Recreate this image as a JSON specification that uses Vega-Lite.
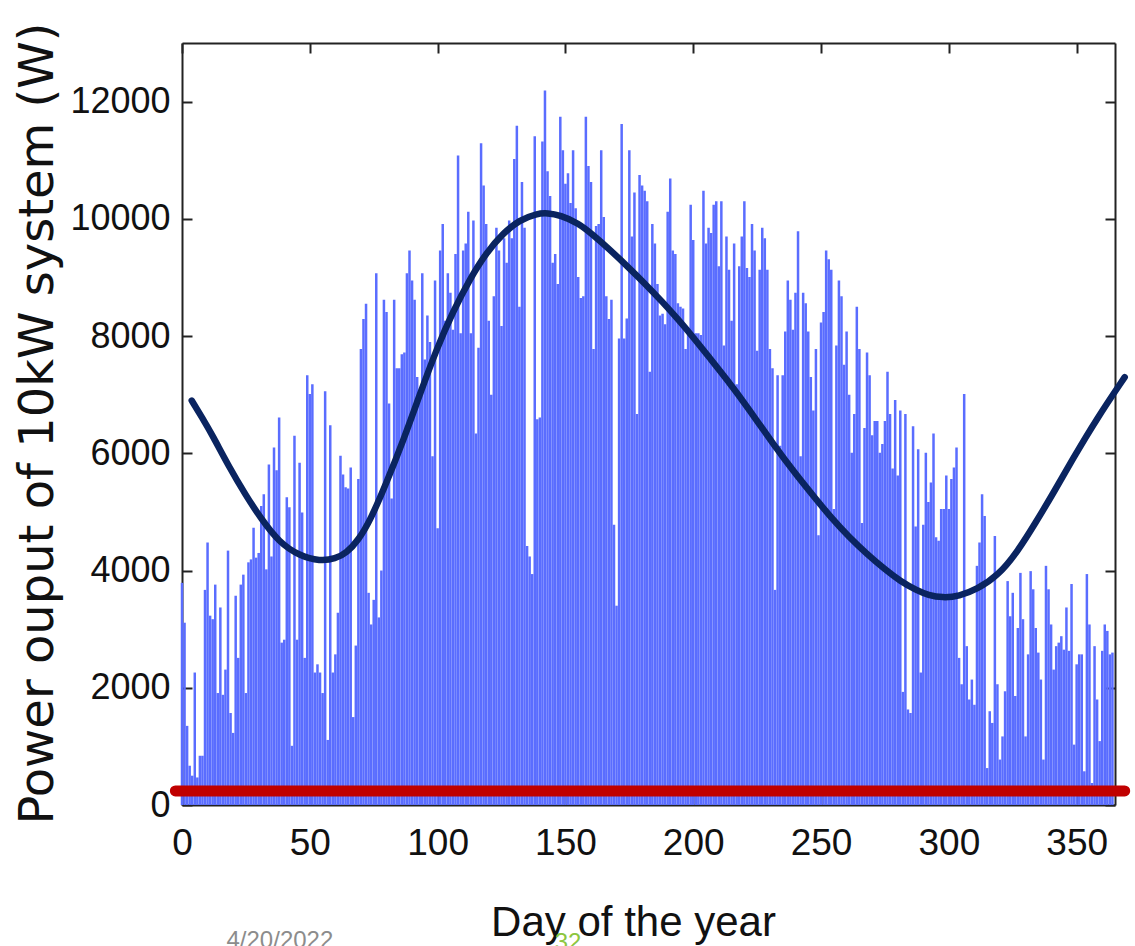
{
  "$schema": "https://vega.github.io/schema/vega-lite/v6.json",
  "width": 933,
  "height": 762,
  "autosize": "none",
  "padding": {"left": 182, "top": 43, "right": 20, "bottom": 141},
  "background": "white",
  "config": {"view": {"stroke": null}},
  "datasets": {
    "daily": [
      {"d":0,"p":3790},{"d":1,"p":3110},{"d":2,"p":1350},{"d":3,"p":670},{"d":4,"p":500},{"d":5,"p":2260},{"d":6,"p":470},{"d":7,"p":840},{"d":8,"p":840},{"d":9,"p":3670},
      {"d":10,"p":4480},{"d":11,"p":3230},{"d":12,"p":3170},{"d":13,"p":3760},{"d":14,"p":1910},{"d":15,"p":3370},{"d":16,"p":1880},{"d":17,"p":2310},{"d":18,"p":4340},{"d":19,"p":1570},
      {"d":20,"p":1230},{"d":21,"p":3570},{"d":22,"p":2510},{"d":23,"p":3760},{"d":24,"p":3930},{"d":25,"p":1910},{"d":26,"p":4140},{"d":27,"p":4190},{"d":28,"p":4730},{"d":29,"p":4220},
      {"d":30,"p":4300},{"d":31,"p":5100},{"d":32,"p":5300},{"d":33,"p":4020},{"d":34,"p":5810},{"d":35,"p":4240},{"d":36,"p":6100},{"d":37,"p":5710},{"d":38,"p":6610},{"d":39,"p":2770},
      {"d":40,"p":2820},{"d":41,"p":5250},{"d":42,"p":5080},{"d":43,"p":1010},{"d":44,"p":6300},{"d":45,"p":2820},{"d":46,"p":5840},{"d":47,"p":4990},{"d":48,"p":2510},{"d":49,"p":7330},
      {"d":50,"p":7010},{"d":51,"p":7180},{"d":52,"p":2260},{"d":53,"p":2400},{"d":54,"p":2260},{"d":55,"p":1910},{"d":56,"p":7060},{"d":57,"p":1110},{"d":58,"p":6480},{"d":59,"p":2260},
      {"d":60,"p":2570},{"d":61,"p":3280},{"d":62,"p":5960},{"d":63,"p":5640},{"d":64,"p":5420},{"d":65,"p":5400},{"d":66,"p":5760},{"d":67,"p":1500},{"d":68,"p":2720},{"d":69,"p":5560},
      {"d":70,"p":7780},{"d":71,"p":8290},{"d":72,"p":8550},{"d":73,"p":3620},{"d":74,"p":3080},{"d":75,"p":3500},{"d":76,"p":9070},{"d":77,"p":3200},{"d":78,"p":4000},{"d":79,"p":8620},
      {"d":80,"p":8410},{"d":81,"p":6850},{"d":82,"p":5230},{"d":83,"p":8620},{"d":84,"p":7450},{"d":85,"p":7450},{"d":86,"p":7690},{"d":87,"p":7720},{"d":88,"p":9070},{"d":89,"p":9460},
      {"d":90,"p":8950},{"d":91,"p":8620},{"d":92,"p":7300},{"d":93,"p":6940},{"d":94,"p":9070},{"d":95,"p":7600},{"d":96,"p":8350},{"d":97,"p":7900},{"d":98,"p":5950},{"d":99,"p":8950},
      {"d":100,"p":4720},{"d":101,"p":9460},{"d":102,"p":9910},{"d":103,"p":8260},{"d":104,"p":9070},{"d":105,"p":8740},{"d":106,"p":8110},{"d":107,"p":9400},{"d":108,"p":11080},{"d":109,"p":8050},
      {"d":110,"p":9460},{"d":111,"p":9580},{"d":112,"p":10120},{"d":113,"p":8050},{"d":114,"p":9970},{"d":115,"p":6340},{"d":116,"p":7800},{"d":117,"p":11290},{"d":118,"p":10570},{"d":119,"p":9910},
      {"d":120,"p":8260},{"d":121,"p":7000},{"d":122,"p":8680},{"d":123,"p":9850},{"d":124,"p":9460},{"d":125,"p":8170},{"d":126,"p":9670},{"d":127,"p":9250},{"d":128,"p":9970},{"d":129,"p":9670},
      {"d":130,"p":11020},{"d":131,"p":11590},{"d":132,"p":8500},{"d":133,"p":10630},{"d":134,"p":9850},{"d":135,"p":4420},{"d":136,"p":4240},{"d":137,"p":3940},{"d":138,"p":11410},{"d":139,"p":6580},
      {"d":140,"p":6610},{"d":141,"p":11320},{"d":142,"p":12190},{"d":143,"p":10810},{"d":144,"p":10390},{"d":145,"p":9250},{"d":146,"p":9400},{"d":147,"p":8890},{"d":148,"p":11740},{"d":149,"p":11170},
      {"d":150,"p":10600},{"d":151,"p":10780},{"d":152,"p":10270},{"d":153,"p":11170},{"d":154,"p":10180},{"d":155,"p":9010},{"d":156,"p":8650},{"d":157,"p":8680},{"d":158,"p":11740},{"d":159,"p":10900},
      {"d":160,"p":10630},{"d":161,"p":7780},{"d":162,"p":9880},{"d":163,"p":9910},{"d":164,"p":11170},{"d":165,"p":10030},{"d":166,"p":8680},{"d":167,"p":8290},{"d":168,"p":8620},{"d":169,"p":4780},
      {"d":170,"p":3400},{"d":171,"p":7960},{"d":172,"p":11620},{"d":173,"p":7960},{"d":174,"p":8300},{"d":175,"p":11170},{"d":176,"p":9700},{"d":177,"p":10450},{"d":178,"p":6670},{"d":179,"p":10750},
      {"d":180,"p":10570},{"d":181,"p":10480},{"d":182,"p":10300},{"d":183,"p":7390},{"d":184,"p":9910},{"d":185,"p":9580},{"d":186,"p":8890},{"d":187,"p":8350},{"d":188,"p":8380},{"d":189,"p":8200},
      {"d":190,"p":10120},{"d":191,"p":10690},{"d":192,"p":9460},{"d":193,"p":9400},{"d":194,"p":8560},{"d":195,"p":8500},{"d":196,"p":8470},{"d":197,"p":7780},{"d":198,"p":8140},{"d":199,"p":10240},
      {"d":200,"p":9640},{"d":201,"p":8050},{"d":202,"p":8050},{"d":203,"p":8020},{"d":204,"p":10480},{"d":205,"p":9580},{"d":206,"p":9850},{"d":207,"p":9760},{"d":208,"p":10240},{"d":209,"p":10300},
      {"d":210,"p":9190},{"d":211,"p":10300},{"d":212,"p":7840},{"d":213,"p":9700},{"d":214,"p":9130},{"d":215,"p":8260},{"d":216,"p":9580},{"d":217,"p":7180},{"d":218,"p":9190},{"d":219,"p":9700},
      {"d":220,"p":10300},{"d":221,"p":9160},{"d":222,"p":9010},{"d":223,"p":9910},{"d":224,"p":9460},{"d":225,"p":7750},{"d":226,"p":9130},{"d":227,"p":9850},{"d":228,"p":9670},{"d":229,"p":9130},
      {"d":230,"p":7780},{"d":231,"p":7450},{"d":232,"p":3670},{"d":233,"p":7330},{"d":234,"p":6130},{"d":235,"p":7330},{"d":236,"p":8080},{"d":237,"p":8950},{"d":238,"p":8620},{"d":239,"p":8110},
      {"d":240,"p":8740},{"d":241,"p":9790},{"d":242,"p":5950},{"d":243,"p":8740},{"d":244,"p":8560},{"d":245,"p":8080},{"d":246,"p":7300},{"d":247,"p":6730},{"d":248,"p":7780},{"d":249,"p":4600},
      {"d":250,"p":8230},{"d":251,"p":8410},{"d":252,"p":9460},{"d":253,"p":9310},{"d":254,"p":9130},{"d":255,"p":5050},{"d":256,"p":7840},{"d":257,"p":8950},{"d":258,"p":8680},{"d":259,"p":7510},
      {"d":260,"p":8080},{"d":261,"p":7000},{"d":262,"p":6010},{"d":263,"p":6670},{"d":264,"p":8500},{"d":265,"p":7780},{"d":266,"p":4810},{"d":267,"p":6430},{"d":268,"p":7720},{"d":269,"p":7330},
      {"d":270,"p":6310},{"d":271,"p":6550},{"d":272,"p":6550},{"d":273,"p":6010},{"d":274,"p":6160},{"d":275,"p":6550},{"d":276,"p":7390},{"d":277,"p":6670},{"d":278,"p":5740},{"d":279,"p":6910},
      {"d":280,"p":5620},{"d":281,"p":6730},{"d":282,"p":1930},{"d":283,"p":6670},{"d":284,"p":1630},{"d":285,"p":1570},{"d":286,"p":6460},{"d":287,"p":4750},{"d":288,"p":6070},{"d":289,"p":2260},
      {"d":290,"p":4780},{"d":291,"p":6010},{"d":292,"p":5170},{"d":293,"p":5500},{"d":294,"p":6340},{"d":295,"p":4570},{"d":296,"p":4510},{"d":297,"p":5050},{"d":298,"p":5050},{"d":299,"p":5620},
      {"d":300,"p":5050},{"d":301,"p":5560},{"d":302,"p":5760},{"d":303,"p":6100},{"d":304,"p":2510},{"d":305,"p":2060},{"d":306,"p":7010},{"d":307,"p":2710},{"d":308,"p":1800},{"d":309,"p":2140},
      {"d":310,"p":1710},{"d":311,"p":4080},{"d":312,"p":4480},{"d":313,"p":5300},{"d":314,"p":4930},{"d":315,"p":630},{"d":316,"p":1600},{"d":317,"p":1400},{"d":318,"p":4590},{"d":319,"p":2060},
      {"d":320,"p":775},{"d":321,"p":1170},{"d":322,"p":1940},{"d":323,"p":3820},{"d":324,"p":3220},{"d":325,"p":3620},{"d":326,"p":1860},{"d":327,"p":3020},{"d":328,"p":3960},{"d":329,"p":3170},
      {"d":330,"p":1170},{"d":331,"p":2570},{"d":332,"p":3990},{"d":333,"p":3680},{"d":334,"p":3020},{"d":335,"p":2600},{"d":336,"p":2140},{"d":337,"p":775},{"d":338,"p":4080},{"d":339,"p":3680},
      {"d":340,"p":3080},{"d":341,"p":2310},{"d":342,"p":2710},{"d":343,"p":2770},{"d":344,"p":2880},{"d":345,"p":2650},{"d":346,"p":3370},{"d":347,"p":2630},{"d":348,"p":3770},{"d":349,"p":1030},
      {"d":350,"p":2400},{"d":351,"p":2570},{"d":352,"p":2570},{"d":353,"p":575},{"d":354,"p":3940},{"d":355,"p":3080},{"d":356,"p":375},{"d":357,"p":2710},{"d":358,"p":1800},{"d":359,"p":1090},
      {"d":360,"p":2630},{"d":361,"p":3080},{"d":362,"p":2970},{"d":363,"p":2570},{"d":364,"p":2600}
    ],
    "fit": [
      {"d":3.8,"p":6900},{"d":8,"p":6600},{"d":12,"p":6300},{"d":18,"p":5800},{"d":25,"p":5280},{"d":31,"p":4880},{"d":38,"p":4480},{"d":46,"p":4250},{"d":54,"p":4160},{"d":60,"p":4200},
      {"d":64.4,"p":4300},{"d":69,"p":4520},{"d":73.6,"p":4850},{"d":80,"p":5500},{"d":86.6,"p":6220},{"d":93,"p":7000},{"d":99.6,"p":7780},{"d":106,"p":8420},{"d":112.7,"p":8980},{"d":119,"p":9420},
      {"d":125.7,"p":9760},{"d":132,"p":9980},{"d":138.8,"p":10090},{"d":143,"p":10100},{"d":148,"p":10060},{"d":155,"p":9930},{"d":161,"p":9720},{"d":167,"p":9490},{"d":174,"p":9200},{"d":181,"p":8900},
      {"d":187.8,"p":8590},{"d":194,"p":8290},{"d":200,"p":7980},{"d":206,"p":7650},{"d":213,"p":7270},{"d":222,"p":6740},{"d":231.6,"p":6140},{"d":240,"p":5650},{"d":248,"p":5220},{"d":254,"p":4900},
      {"d":261,"p":4570},{"d":268,"p":4280},{"d":275,"p":4020},{"d":281,"p":3820},{"d":287.4,"p":3660},{"d":292,"p":3580},{"d":297.5,"p":3535},{"d":304,"p":3560},{"d":311,"p":3680},{"d":319.2,"p":3910},
      {"d":327,"p":4330},{"d":334,"p":4820},{"d":341,"p":5330},{"d":348.4,"p":5900},{"d":358,"p":6600},{"d":368.8,"p":7300}
    ],
    "zero": [{"d":-2.6,"p":240},{"d":368.8,"p":240}],
    "dateText": [{"d":38.3,"p":-2120,"t":"4/20/2022"}],
    "pageText": [{"d":151,"p":-2150,"t":"32"}]
  },
  "resolve": {"axis": {"x": "independent", "y": "independent"}},
  "layer": [
    {
      "data": {"name": "daily"},
      "mark": {"type": "rule", "color": "#5a6dff", "strokeWidth": 2.5, "clip": false},
      "encoding": {
        "x": {"field": "d", "type": "quantitative",
          "scale": {"domain": [0, 365], "nice": false, "zero": false},
          "axis": {"orient": "bottom", "values": [0,50,100,150,200,250,300,350], "grid": false,
            "title": "Day of the year", "labelFont": "Liberation Sans", "labelFontSize": 37, "labelColor": "#111111",
            "labelPadding": 30, "labelFlush": false, "labelOverlap": false, "labelBaseline": "top",
            "tickSize": -10, "tickWidth": 2, "tickColor": "#222222", "domainColor": "#222222", "domainWidth": 2,
            "titleFont": "Liberation Sans", "titleFontSize": 42, "titleFontWeight": "normal", "titleColor": "#111111",
            "titleBaseline": "alphabetic", "titleAlign": "center", "titleX": 451, "titleY": 130}},
        "y": {"field": "p", "type": "quantitative",
          "scale": {"domain": [0, 13000], "nice": false, "zero": false},
          "axis": {"orient": "left", "values": [0,2000,4000,6000,8000,10000,12000], "format": "d", "grid": false,
            "title": "Power ouput of 10kW system (W)", "labelFont": "Liberation Sans", "labelFontSize": 36, "labelColor": "#111111",
            "labelPadding": 22, "labelOverlap": false, "labelFlush": false,
            "tickSize": -10, "tickWidth": 2, "tickColor": "#222222", "domainColor": "#222222", "domainWidth": 2,
            "titleFont": "DejaVu Sans", "titleFontSize": 48, "titleFontWeight": "normal", "titleColor": "#111111",
            "titleAngle": 270, "titleBaseline": "alphabetic", "titleAlign": "center", "titleX": -130, "titleY": 380}},
        "y2": {"datum": 0}
      }
    },
    {
      "data": {"name": "fit"},
      "mark": {"type": "line", "color": "#0a2460", "strokeWidth": 6.5, "interpolate": "basis", "clip": false, "strokeCap": "round"},
      "encoding": {
        "x": {"field": "d", "type": "quantitative", "axis": null},
        "y": {"field": "p", "type": "quantitative", "axis": null}
      }
    },
    {
      "data": {"name": "zero"},
      "mark": {"type": "line", "color": "#c00000", "strokeWidth": 11, "strokeCap": "round", "clip": false},
      "encoding": {
        "x": {"field": "d", "type": "quantitative",
          "axis": {"orient": "top", "values": [0,50,100,150,200,250,300,350], "labels": false, "title": null, "grid": false,
            "tickSize": -10, "tickWidth": 2, "tickColor": "#222222", "domainColor": "#222222", "domainWidth": 2}},
        "y": {"field": "p", "type": "quantitative",
          "axis": {"orient": "right", "values": [0,2000,4000,6000,8000,10000,12000], "labels": false, "title": null, "grid": false,
            "tickSize": -10, "tickWidth": 2, "tickColor": "#222222", "domainColor": "#222222", "domainWidth": 2}}
      }
    },
    {
      "data": {"name": "dateText"},
      "mark": {"type": "text", "font": "Liberation Sans", "fontSize": 24, "color": "#8c8c8c", "baseline": "top", "align": "center", "clip": false},
      "encoding": {
        "x": {"field": "d", "type": "quantitative", "axis": null},
        "y": {"field": "p", "type": "quantitative", "axis": null},
        "text": {"field": "t"}
      }
    },
    {
      "data": {"name": "pageText"},
      "mark": {"type": "text", "font": "Liberation Sans", "fontSize": 24, "color": "#8dc63f", "baseline": "top", "align": "center", "clip": false},
      "encoding": {
        "x": {"field": "d", "type": "quantitative", "axis": null},
        "y": {"field": "p", "type": "quantitative", "axis": null},
        "text": {"field": "t"}
      }
    }
  ]
}
